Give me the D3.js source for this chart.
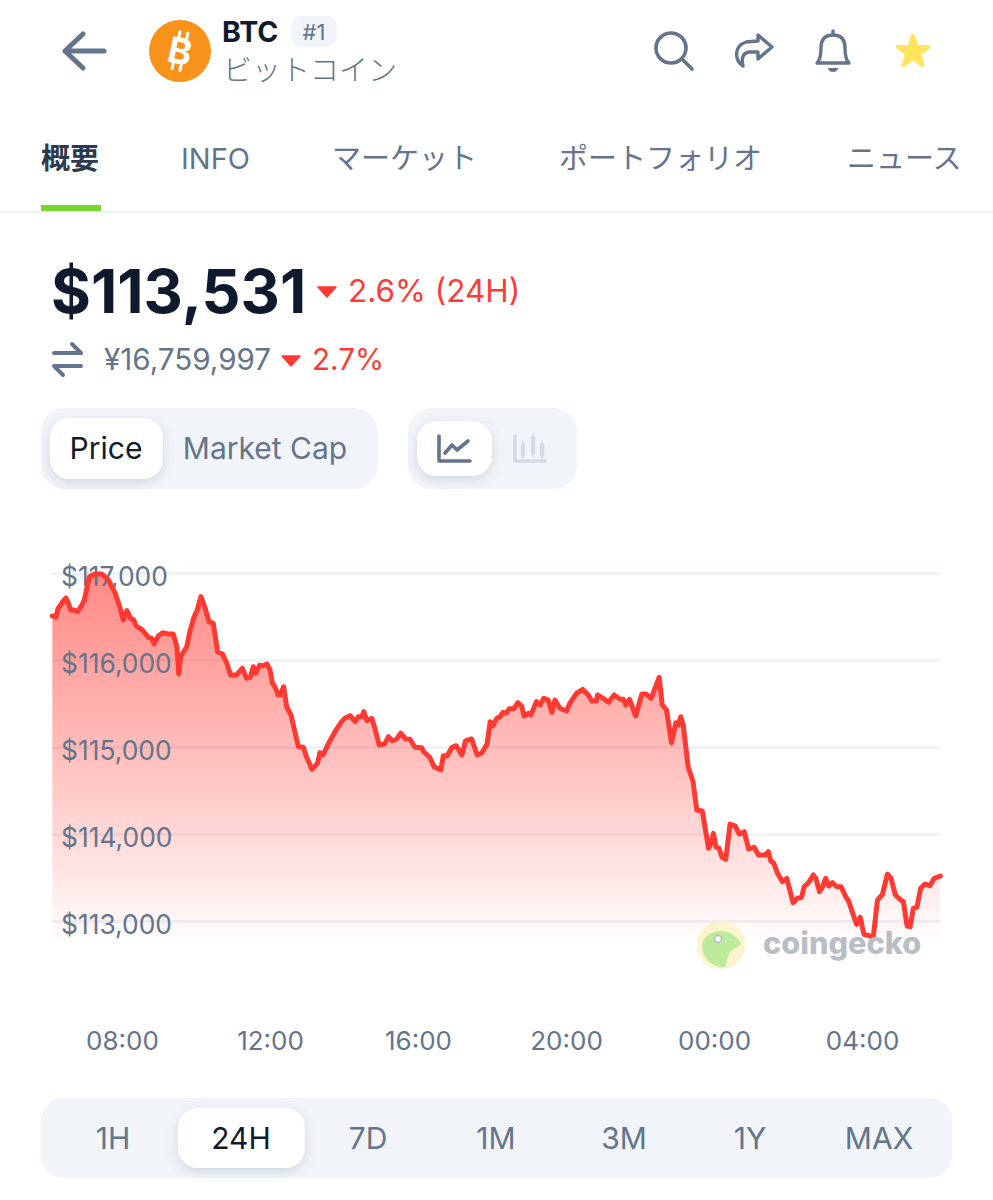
<!DOCTYPE html>
<html>
<head>
<meta charset="utf-8">
<script src="https://cdn.jsdelivr.net/npm/d3@7"></script>
<style>
html, body { margin: 0; padding: 0; background: #fff; }
svg { display: block; }
text { font-family: Inter, "Noto Sans CJK JP", sans-serif; }
.axis path, .axis line { fill: none; }
</style>
</head>
<body>
<div id="app"></div>
<script>
// minutes relative to 08:00 on the left of the chart
var timeMinutes = [-113,-111,-107,-104,-96,-91,-88,-83,-78,-72,-65,-61,-57,-53,-44,-33,-22,-11,-3,2,8,14,19,23,32,43,48,52,59,66,75,83,89,92,95,105,110,117,122,128,135,141,148,155,163,170,176,186,195,202,208,213,217,223,228,235,240,244,248,253,257,262,267,274,286,294,299,308,317,321,326,335,347,356,362,370,378,383,389,392,397,405,410,417,426,432,438,445,452,460,467,475,486,489,499,506,517,521,527,535,542,551,557,567,576,583,592,597,601,608,613,618,623,628,635,642,648,652,659,663,672,678,684,691,697,702,710,721,726,737,747,756,762,769,771,780,789,798,808,813,817,823,833,843,850,858,871,876,883,891,898,902,906,910,918,926,932,941,951,955,959,963,968,973,979,986,994,1001,1009,1016,1025,1032,1043,1048,1052,1057,1063,1071,1078,1088,1095,1102,1106,1113,1121,1125,1131,1136,1141,1146,1152,1159,1166,1174,1178,1191,1197,1203,1213,1218,1225,1233,1241,1247,1254,1263,1267,1273,1278,1283,1289,1295,1302,1310,1317,1327]
var priceValues = [116506,116506,116490,116586,116670,116713,116670,116575,116575,116555,116632,116690,116828,116957,116989,116989,116920,116767,116594,116460,116567,116479,116460,116391,116353,116261,116249,116184,116276,116314,116299,116299,116153,115839,116038,116153,116325,116498,116575,116728,116594,116440,116422,116095,116069,115962,115828,115828,115905,115790,115801,115923,115847,115939,115931,115954,115885,115732,115693,115598,115598,115693,115463,115368,115003,114997,114889,114744,114813,114935,114908,115043,115195,115291,115333,115360,115291,115348,115348,115406,115302,115330,115215,115023,115035,115118,115072,115089,115158,115092,115089,114997,114992,114946,114882,114774,114736,114900,114897,114997,115015,114908,115069,115092,114908,114928,115035,115291,115241,115330,115348,115399,115387,115440,115440,115509,115471,115356,115387,115368,115521,115483,115560,115540,115399,115540,115445,115414,115502,115617,115663,115598,115529,115529,115598,115560,115514,115598,115548,115548,115483,115548,115356,115609,115609,115560,115801,115483,115425,115049,115279,115253,115348,115253,114774,114601,114276,114264,113836,113893,114008,113854,113836,113732,113709,114115,114095,114000,114027,113828,113847,113759,113759,113797,113690,113663,113548,113452,113491,113210,113261,113273,113394,113440,113529,113491,113337,113394,113491,113402,113440,113394,113394,113273,113233,112962,113043,112847,112828,112808,113241,113307,113537,113491,113299,113241,113222,112943,112935,113146,113158,113376,113425,113406,113491,113517]
var yTicks = [113000,114000,115000,116000,117000]
var xTicks = [0,240,480,720,960,1200]
var xLabels = ['08:00','12:00','16:00','20:00','00:00','04:00']
var tabLabels = ['概要','INFO','マーケット','ポートフォリオ','ニュース']
var tabX = [41,181,332,559,847]
var rangeLabels = ['1H','24H','7D','1M','3M','1Y','MAX']
var rangeX = [113,241,368,496,624,750,879]

var slate = '#64748b'
var dark = '#0f1a2e'
var red = '#ff3a33'
var panel = '#f1f4f9'

var svg = d3.select('#app').append('svg')
	.attr('width', 993)
	.attr('height', 1200)
	.attr('viewBox', '0 0 993 1200')

var defs = svg.append('defs')

var grad = defs.append('linearGradient')
	.attr('id', 'areaFill')
	.attr('gradientUnits', 'userSpaceOnUse')
	.attr('x1', 0).attr('x2', 0)
	.attr('y1', 575).attr('y2', 945)
grad.append('stop').attr('offset', '0').attr('stop-color', '#ff3a33').attr('stop-opacity', 0.6)
grad.append('stop').attr('offset', '0.6').attr('stop-color', '#ff3a33').attr('stop-opacity', 0.26)
grad.append('stop').attr('offset', '1').attr('stop-color', '#ff3a33').attr('stop-opacity', 0)

var shadow = defs.append('filter')
	.attr('id', 'pillShadow')
	.attr('x', '-30%').attr('y', '-30%')
	.attr('width', '160%').attr('height', '170%')
shadow.append('feDropShadow')
	.attr('dx', 0).attr('dy', 4)
	.attr('stdDeviation', 6)
	.attr('flood-color', '#64748b')
	.attr('flood-opacity', 0.22)

function label(x, y, txt, size, color, weight, anchor) {
	return svg.append('text')
		.attr('x', x)
		.attr('y', y)
		.attr('font-size', size)
		.attr('font-weight', weight || 400)
		.attr('text-anchor', anchor || 'start')
		.attr('fill', color)
		.text(txt)
}

function icon(d, width, color) {
	return svg.append('path')
		.attr('d', d)
		.attr('fill', 'none')
		.attr('stroke', color || slate)
		.attr('stroke-width', width)
		.attr('stroke-linecap', 'round')
		.attr('stroke-linejoin', 'round')
}

// header
icon('M104 51 L65 51 M83 34 L65 51 L83 68', 5)
svg.append('circle').attr('cx', 180).attr('cy', 51).attr('r', 31).attr('fill', '#f7931a')
svg.append('text')
	.attr('x', 180).attr('y', 64)
	.attr('font-size', 36)
	.attr('font-weight', 700)
	.attr('text-anchor', 'middle')
	.attr('fill', '#fff')
	.attr('transform', 'rotate(12 180 51)')
	.text('B')
icon('M176 32 L176 39 M184 32 L184 39 M176 63 L176 70 M184 63 L184 70', 3, '#fff')
	.attr('transform', 'rotate(12 180 51)')

label(222, 42, 'BTC', 28.5, dark, 700)
svg.append('rect').attr('x', 291).attr('y', 16).attr('width', 46).attr('height', 31).attr('rx', 10).attr('fill', panel)
label(314, 40, '#1', 22, slate, 400, 'middle')
label(223, 81, 'ビットコイン', 29, slate, 300)

// top right icons
svg.append('circle').attr('cx', 671).attr('cy', 48).attr('r', 15).attr('fill', 'none').attr('stroke', slate).attr('stroke-width', 3.6)
icon('M682 59 L692 69', 3.6)
icon('M743 66 C734 60 734 46 746 42 L758 41 L758 35 L772 47 L758 59 L758 52 L749 52 C743 53 741 58 743 66 Z', 3.4)
icon('M833 35 C824 35 821 41 821 48 C821 55 820 60 817 63 L849 63 C846 60 845 55 845 48 C845 41 842 35 833 35 Z M833 31 L833 35', 3.4)
svg.append('path').attr('d', 'M828 68 L838 68 A5 4 0 0 1 828 68 Z').attr('fill', slate)
svg.append('path')
	.attr('d', d3.symbol().type(d3.symbolStar).size(290))
	.attr('transform', 'translate(913,52)')
	.attr('fill', '#ffe45c')
	.attr('stroke', '#ffe45c')
	.attr('stroke-width', 4)
	.attr('stroke-linejoin', 'round')

// tabs
svg.selectAll('.tab').data(tabLabels).enter().append('text')
	.attr('class', 'tab')
	.attr('x', function(d, i) { return tabX[i] })
	.attr('y', 169)
	.attr('font-size', 29)
	.attr('font-weight', function(d, i) { return i == 0 ? 700 : 400 })
	.attr('fill', function(d, i) { return i == 0 ? '#2c3a4f' : slate })
	.text(function(d) { return d })
svg.append('rect').attr('x', 0).attr('y', 211).attr('width', 993).attr('height', 2).attr('fill', '#eef1f4')
svg.append('rect').attr('x', 41).attr('y', 205).attr('width', 60).attr('height', 6).attr('fill', '#76d72f')

// price header
label(51, 313, '$113,531', 61, dark, 700)
var tri = 'M-9 -4 L9 -4 L0 6 Z'
svg.append('path').attr('d', tri).attr('transform', 'translate(327,291)').attr('fill', red).attr('stroke', red).attr('stroke-width', 1.5).attr('stroke-linejoin', 'round')
label(348, 302, '2.6% (24H)', 31.5, red)
icon('M54 353 L81 353 M72 344 L81 353 M81 366 L54 366 M63 375 L54 366', 4)
label(104, 370, '¥16,759,997', 29.6, slate)
svg.append('path').attr('d', tri).attr('transform', 'translate(291,360)').attr('fill', red).attr('stroke', red).attr('stroke-width', 1.5).attr('stroke-linejoin', 'round')
label(312, 370, '2.7%', 29.6, red)

// toggles
svg.append('rect').attr('x', 41).attr('y', 408).attr('width', 337).attr('height', 81).attr('rx', 24).attr('fill', panel)
svg.append('rect').attr('x', 50).attr('y', 418).attr('width', 113).attr('height', 61).attr('rx', 20).attr('fill', '#fff').attr('filter', 'url(#pillShadow)')
label(106, 459, 'Price', 30, dark, 400, 'middle')
label(265, 459, 'Market Cap', 30, slate, 400, 'middle')
svg.append('rect').attr('x', 408).attr('y', 408).attr('width', 169).attr('height', 81).attr('rx', 24).attr('fill', panel)
svg.append('rect').attr('x', 417).attr('y', 421).attr('width', 75).attr('height', 55).attr('rx', 20).attr('fill', '#fff').attr('filter', 'url(#pillShadow)')
icon('M439 436 L439 461 L470 461 M445 453 L452 445 L457 450 L468 441', 3.6)
icon('M515 436 L515 461 L545 461', 3.6, '#d3dae4')
icon('M523 445 L523 455 M533 438 L533 453 M542 445 L542 455', 4.4, '#d3dae4')
icon('M523 441 L523 459 M533 434 L533 457 M542 441 L542 459', 1.4, '#d3dae4')

// chart
var x = d3.scaleLinear().domain([-113.5, 1328]).range([52, 941])
var y = d3.scaleLinear().domain([113000, 117000]).range([921, 573])
var bottomY = 945

var gridAxis = d3.axisLeft(y).tickValues(yTicks).tickSize(-889).tickFormat('')
var gridG = svg.append('g').attr('class', 'axis').attr('transform', 'translate(52,0)').call(gridAxis)
gridG.select('.domain').remove()
gridG.selectAll('line').attr('stroke', '#eff2f6').attr('stroke-width', 3)

var points = timeMinutes.map(function(t, i) { return [t, priceValues[i]] })

var area = d3.area()
	.x(function(d) { return x(d[0]) })
	.y0(bottomY)
	.y1(function(d) { return y(d[1]) })
var line = d3.line()
	.x(function(d) { return x(d[0]) })
	.y(function(d) { return y(d[1]) })

svg.append('path').datum(points).attr('d', area).attr('fill', 'url(#areaFill)')

var yAxis = d3.axisRight(y).tickValues(yTicks).tickSize(0).tickFormat(function(d) { return '$' + d3.format(',')(d) })
var yG = svg.append('g').attr('class', 'axis').attr('transform', 'translate(61,4)').call(yAxis)
yG.select('.domain').remove()
yG.selectAll('text').attr('x', 0).attr('fill', slate).attr('font-size', 26.4).style('font-family', 'Inter')

svg.append('path').datum(points)
	.attr('d', line)
	.attr('fill', 'none')
	.attr('stroke', red)
	.attr('stroke-width', 5)
	.attr('stroke-linejoin', 'round')
	.attr('stroke-linecap', 'round')

var xAxis = d3.axisBottom(x).tickValues(xTicks).tickSize(0).tickFormat(function(d, i) { return xLabels[i] })
var xG = svg.append('g').attr('class', 'axis').attr('transform', 'translate(0,1029)').call(xAxis)
xG.select('.domain').remove()
xG.selectAll('text').attr('fill', slate).attr('font-size', 26).style('font-family', 'Inter')

// watermark
svg.append('circle').attr('cx', 721).attr('cy', 945).attr('r', 24).attr('fill', '#fdf3c8').attr('opacity', 0.9)
svg.append('path')
	.attr('d', 'M702 944 C704 934 716 929 727 932 C733 934 738 938 741 943 C740 947 733 948 730 952 C727 957 727 962 725 967 C714 968 707 961 703 953 Z')
	.attr('fill', '#bdeb9c')
svg.append('circle').attr('cx', 718).attr('cy', 939).attr('r', 3.5).attr('fill', '#fff').attr('stroke', '#b9bcc0').attr('stroke-width', 1.5)
label(763, 954, 'coingecko', 30.7, '#b9bdc4', 800)

// range selector
svg.append('rect').attr('x', 41).attr('y', 1098).attr('width', 911).attr('height', 80).attr('rx', 22).attr('fill', panel)
svg.append('rect').attr('x', 178).attr('y', 1108).attr('width', 127).attr('height', 60).attr('rx', 20).attr('fill', '#fff').attr('filter', 'url(#pillShadow)')
svg.selectAll('.range').data(rangeLabels).enter().append('text')
	.attr('class', 'range')
	.attr('x', function(d, i) { return rangeX[i] })
	.attr('y', 1149)
	.attr('font-size', 30)
	.attr('text-anchor', 'middle')
	.attr('fill', function(d) { return d == '24H' ? dark : slate })
	.text(function(d) { return d })
</script>
</body>
</html>
